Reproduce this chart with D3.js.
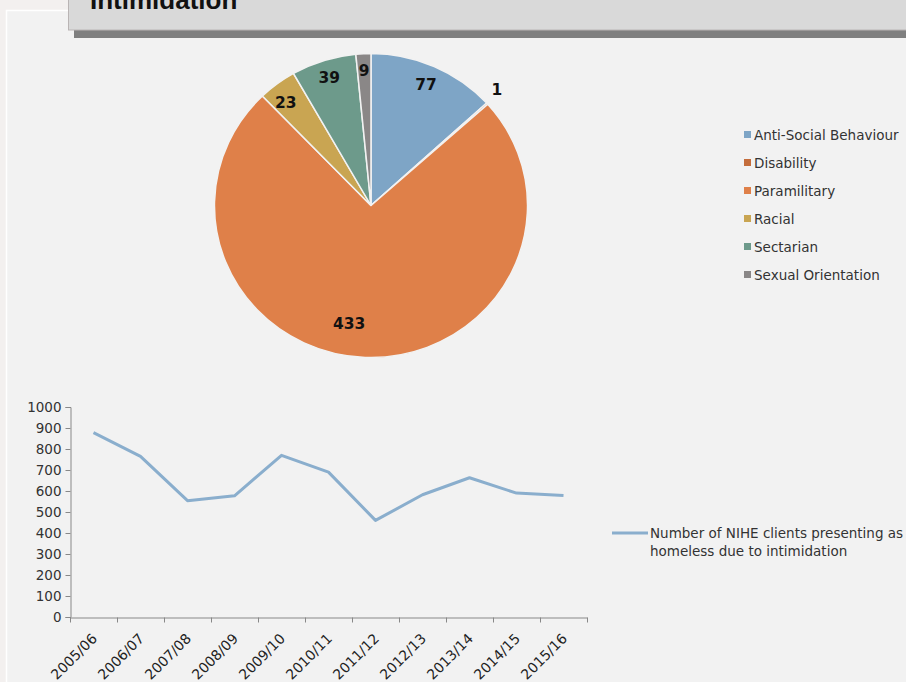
<!DOCTYPE html>
<head>
	<meta charset="utf-8">
	<script type="text/javascript" src="https://cdn.jsdelivr.net/npm/d3@7"></script>
	<style>
		body { margin: 0; background: #f3f0ef; }
		text { font-family: "DejaVu Sans", sans-serif; }
	</style>
</head>
<body>
	<script type="text/javascript">

	// pie data
	var causes = ["Anti-Social Behaviour", "Disability", "Paramilitary", "Racial", "Sectarian", "Sexual Orientation"];
	var causeCounts = [77, 1, 433, 23, 39, 9];
	var causeColors = ["#7ea5c6", "#c46d3c", "#df8049", "#c9a552", "#6d9a8b", "#8a8787"];

	// line data
	var years = ["2005/06", "2006/07", "2007/08", "2008/09", "2009/10", "2010/11",
		"2011/12", "2012/13", "2013/14", "2014/15", "2015/16"];
	var clients = [878, 765, 554, 577, 770, 690, 460, 582, 663, 590, 578];
	var yTicks = [0, 100, 200, 300, 400, 500, 600, 700, 800, 900, 1000];
	var seriesName = ["Number of NIHE clients presenting as", "homeless due to intimidation"];

	var w = 906;
	var h = 682;

	var svg = d3.select("body")
	.append("svg")
	.attr("width", w)
	.attr("height", h)
	.style("display", "block");

	// panel
	svg.append("rect")
	.attr("x", 6.5).attr("y", 10.5)
	.attr("width", w).attr("height", h)
	.attr("fill", "#f2f2f2")
	.attr("stroke", "#ffffff")
	.attr("stroke-width", 1.5);

	// title banner
	svg.append("rect")
	.attr("x", 74).attr("y", 30)
	.attr("width", w - 74).attr("height", 8)
	.attr("fill", "#7f7f7f");
	svg.append("rect")
	.attr("x", 68.5).attr("y", -5)
	.attr("width", w).attr("height", 35)
	.attr("fill", "#d9d9d9")
	.attr("stroke", "#b9b4b4");
	svg.append("text")
	.text("Intimidation")
	.attr("x", 90).attr("y", 9)
	.style("font-family", "Liberation Sans, Arial, sans-serif")
	.attr("font-weight", "bold")
	.attr("font-size", "26px")
	.attr("fill", "#111");

	// ---- pie ----
	var cx = 371, cy = 205.5, r = 152;
	var pie = d3.pie().sort(null).value(function(d){ return d; });
	var arcs = pie(causeCounts);
	var arc = d3.arc().innerRadius(0).outerRadius(r);

	var pieG = svg.append("g")
	.attr("transform", "translate(" + cx + "," + cy + ") scale(1.03,1)");

	pieG.selectAll("path")
	.data(arcs)
	.enter()
	.append("path")
	.attr("d", arc)
	.attr("fill", function(d, i){ return causeColors[i]; })
	.attr("stroke", "#f2f2f2")
	.attr("stroke-width", 1.5);

	// label radius factor and angle shift for each slice (style only)
	var labelK = [0.87, 1.11, 0.79, 0.87, 0.88, 0.89];
	var labelShift = [0, -1.5, 8, -2, 0, 0];
	pieG.selectAll("text.lbl")
	.data(arcs)
	.enter()
	.append("text")
	.attr("class", "lbl")
	.text(function(d){ return d.data; })
	.attr("transform", function(d, i){
		var a = (d.startAngle + d.endAngle) / 2 + labelShift[i] * Math.PI / 180;
		var rr = r * labelK[i];
		return "translate(" + (Math.sin(a) * rr) + "," + (-Math.cos(a) * rr) + ")";
	})
	.attr("text-anchor", "middle")
	.attr("dy", "0.36em")
	.attr("font-weight", "bold")
	.attr("font-size", "15px")
	.attr("fill", "#111");

	// pie legend
	var leg = svg.append("g");
	leg.selectAll("rect")
	.data(causes)
	.enter()
	.append("rect")
	.attr("x", 744)
	.attr("y", function(d, i){ return 131 + i * 28; })
	.attr("width", 7).attr("height", 7)
	.attr("fill", function(d, i){ return causeColors[i]; });
	leg.selectAll("text")
	.data(causes)
	.enter()
	.append("text")
	.text(function(d){ return d; })
	.attr("x", 754)
	.attr("y", function(d, i){ return 135 + i * 28; })
	.attr("dy", "0.35em")
	.attr("font-size", "13.5px")
	.attr("fill", "#333");

	// ---- line chart ----
	var xscale = d3.scaleBand()
	.domain(years)
	.range([70, 587]);

	var yscale = d3.scaleLinear()
	.domain([0, 1000])
	.range([617, 407]);

	var yAxis = svg.append("g")
	.attr("transform", "translate(70.5,0)")
	.call(d3.axisLeft(yscale).tickValues(yTicks).tickFormat(d3.format("d")).tickSize(5).tickPadding(4));
	yAxis.selectAll("text")
	.attr("font-size", "13.5px")
	.attr("fill", "#333")
	.style("font-family", "DejaVu Sans, sans-serif");

	var xAxis = svg.append("g")
	.attr("transform", "translate(0,617.5)")
	.call(d3.axisBottom(xscale).tickSize(0).tickFormat(""));
	// ticks on band edges
	var edges = years.map(function(d){ return xscale(d); }).concat([xscale.range()[1]]);
	xAxis.selectAll("line.edge")
	.data(edges)
	.enter()
	.append("line")
	.attr("class", "edge")
	.attr("x1", function(d){ return Math.round(d) + 0.5; })
	.attr("x2", function(d){ return Math.round(d) + 0.5; })
	.attr("y1", 0).attr("y2", 5)
	.attr("stroke", "#888");

	svg.selectAll(".domain").attr("stroke", "#888");
	yAxis.selectAll(".tick line").attr("stroke", "#888");

	svg.selectAll("text.year")
	.data(years)
	.enter()
	.append("text")
	.attr("class", "year")
	.text(function(d){ return d; })
	.attr("transform", function(d){
		return "translate(" + (xscale(d) + xscale.bandwidth() / 2 + 1) + ",636) rotate(-45)";
	})
	.attr("text-anchor", "end")
	.attr("dy", "0.35em")
	.attr("font-size", "14px")
	.attr("fill", "#222");

	var line = d3.line()
	.x(function(d, i){ return xscale(years[i]) + xscale.bandwidth() / 2; })
	.y(function(d){ return yscale(d); });

	svg.append("path")
	.datum(clients)
	.attr("d", line)
	.attr("fill", "none")
	.attr("stroke", "#8aaecd")
	.attr("stroke-width", 3)
	.attr("stroke-linejoin", "round");

	// line legend
	svg.append("line")
	.attr("x1", 612).attr("x2", 648)
	.attr("y1", 533).attr("y2", 533)
	.attr("stroke", "#8aaecd")
	.attr("stroke-width", 3);
	svg.selectAll("text.lname")
	.data(seriesName)
	.enter()
	.append("text")
	.attr("class", "lname")
	.text(function(d){ return d; })
	.attr("x", 650)
	.attr("y", function(d, i){ return 533 + i * 18; })
	.attr("dy", "0.35em")
	.attr("font-size", "13.5px")
	.attr("fill", "#333");

	</script>
</body>
</html>
